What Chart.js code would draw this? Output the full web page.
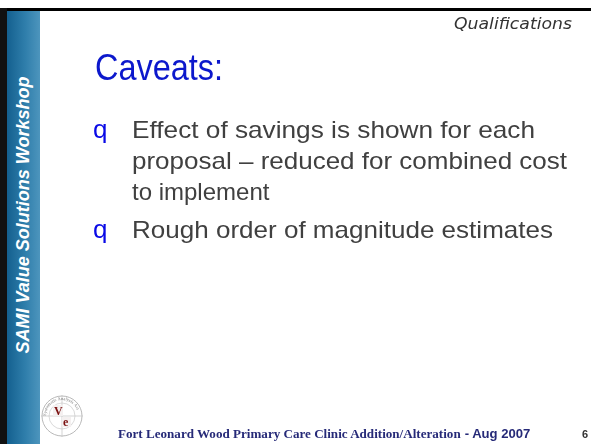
<!DOCTYPE html>
<html>
<head>
<meta charset="utf-8">
<script src="https://cdn.jsdelivr.net/npm/chart.js@4.4.1/dist/chart.umd.min.js"></script>
<style>
  html,body{margin:0;padding:0;background:#fff;}
  #slide{position:relative;width:591px;height:444px;overflow:hidden;background:#fff;font-family:"Liberation Sans",Arial,sans-serif;}
  .abs{position:absolute;white-space:pre;line-height:1;transform-origin:0 0;}
  #topline{position:absolute;left:0;top:8px;width:591px;height:3px;background:#000;}
  #leftline{position:absolute;left:0;top:8px;width:7px;height:436px;background:#111;}
  #sidebar{position:absolute;left:7px;top:11px;width:33px;height:433px;background:linear-gradient(to right,#14608f,#2f7eab 55%,#4d95bd);}
  #sidetext{position:absolute;left:23px;top:215px;color:#fff;font-weight:bold;font-style:italic;font-size:18px;white-space:nowrap;transform:translate(-50%,-50%) rotate(-90deg);line-height:1;}
  #chartbox{position:absolute;left:40px;top:11px;width:551px;height:433px;}
</style>
</head>
<body>
<div id="slide">
  <div id="chartbox"><canvas id="c"></canvas></div>
  <div id="topline"></div>
  <div id="leftline"></div>
  <div id="sidebar"></div>
  <div id="sidetext"></div>
  <div id="content"></div>
  <svg id="logo" style="position:absolute;left:39px;top:390px" width="48" height="54" viewBox="0 0 48 54">
    <circle cx="23" cy="26" r="20" fill="none" stroke="#b8b8b8" stroke-width="1"/>
    <circle cx="23" cy="26" r="13" fill="none" stroke="#d0d0d0" stroke-width="0.8"/>
    <line x1="2" y1="26" x2="44" y2="26" stroke="#c8c8c8" stroke-width="0.8"/>
    <line x1="23" y1="5" x2="23" y2="47" stroke="#c8c8c8" stroke-width="0.8"/>
    <path id="arc" d="M 7 26 A 16 16 0 1 1 39 26" fill="none"/>
    <text font-size="4.5" fill="#777" font-family="Liberation Serif"><textPath href="#arc">Systematic Analysis Act</textPath></text>
    <rect x="14" y="15" width="10" height="11" fill="#f4f0f0"/>
    <rect x="23" y="27" width="9" height="10" fill="#f4f0f0"/>
    <text x="15" y="25" font-size="12" font-weight="bold" fill="#7a1010" font-family="Liberation Serif">V</text>
    <text x="24" y="36" font-size="12" font-weight="bold" fill="#7a1010" font-family="Liberation Serif">e</text>
  </svg>
</div>
<script>
// ---- slide content (no numeric series on this slide) ----
const sidebarTitle = "SAMI Value Solutions Workshop";
const sectionLabel = "Qualifications";
const slideTitle = "Caveats:";
const bulletGlyph = "q";
const bullets = [
  ["Effect of savings is shown for each", "proposal \u2013 reduced for combined cost", "to implement"],
  ["Rough order of magnitude estimates"]
];
const footerSerif = "Fort Leonard Wood Primary Care Clinic Addition/Alteration";
const footerSans = " - Aug 2007";
const pageNumber = "6";

document.getElementById('sidetext').textContent = sidebarTitle;
const content = document.getElementById('content');

function addText(txt, x, baseline, size, css, targetW){
  const d = document.createElement('div');
  d.className = 'abs';
  d.textContent = txt;
  d.style.cssText += css;
  d.style.fontSize = size + 'px';
  d.style.left = x + 'px';
  content.appendChild(d);
  const probe = document.createElement('span');
  probe.style.display='inline-block'; probe.style.width='0'; probe.style.height='0'; probe.style.verticalAlign='baseline';
  d.appendChild(probe);
  const bOff = probe.offsetTop;
  d.style.top = (baseline - bOff) + 'px';
  if (targetW){
    const w = d.getBoundingClientRect().width;
    d.style.transform = 'scaleX(' + (targetW / w) + ')';
  }
  return d;
}

// section label
addText(sectionLabel, 572 - 118, 29, 15, 'font-family:"DejaVu Sans",sans-serif;font-style:italic;color:#333;', 118);
// title
addText(slideTitle, 95, 80, 36, 'color:#0c18cc;', 128);
// bullets
const lineBase = [[138,169,200],[238]];
const lineW = [[403,435,null],[421]];
bullets.forEach((lines, i) => {
  addText(bulletGlyph, 93, lineBase[i][0], 26, 'color:#0a0ae6;');
  lines.forEach((l, j) => addText(l, 132, lineBase[i][j], 24, 'color:#404040;', lineW[i][j]));
});
// footer
const f1 = addText(footerSerif, 118, 438, 13, 'font-family:"Liberation Serif",serif;font-weight:bold;color:#262a78;');
const f2 = addText(footerSans, 0, 438, 13, 'font-family:"Liberation Sans",sans-serif;font-weight:bold;color:#262a78;');
const totalTarget = 412;
const w1 = f1.getBoundingClientRect().width, w2 = f2.getBoundingClientRect().width;
const sc = totalTarget / (w1 + w2);
f1.style.transform = 'scaleX(' + sc + ')';
f2.style.transform = 'scaleX(' + sc + ')';
f2.style.left = (118 + w1 * sc) + 'px';
addText(pageNumber, 582, 438, 11, 'font-weight:bold;color:#333;');

// Chart.js canvas for the slide body (text slide: no plotted series)
new Chart(document.getElementById('c'), {
  type: 'bar',
  data: { labels: [], datasets: [] },
  options: {
    responsive: true, maintainAspectRatio: false, animation: false,
    plugins: { legend: { display: false }, tooltip: { enabled: false }, title: { display: false } },
    scales: { x: { display: false }, y: { display: false } }
  }
});
</script>
</body>
</html>
